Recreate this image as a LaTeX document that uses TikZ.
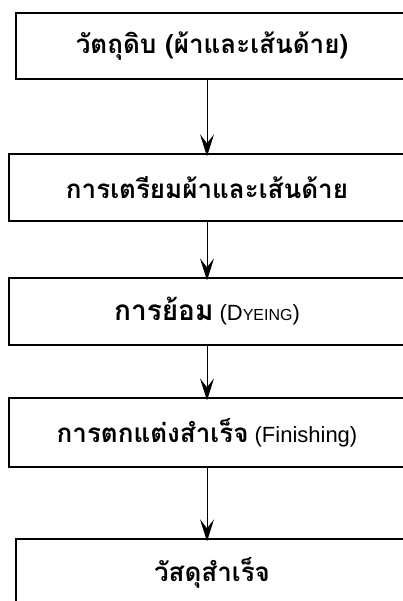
\documentclass[tikz,border=0pt]{standalone}
\usepackage{fontspec}
\setmainfont{Liberation Sans}
\newfontfamily\thai[Script=Thai]{Loma}
\usetikzlibrary{arrows.meta}
\begin{document}
\begin{tikzpicture}[x=1pt,y=-1pt,
  box/.style={draw,line width=1.3pt,inner sep=0pt,anchor=center},
  arr/.style={line width=0.8pt,-{Stealth[length=22pt,width=14pt,inset=9pt]},shorten >=-3pt},
  tb/.style={font=\thai\bfseries\fontsize{26}{30}\selectfont},
  tr/.style={font=\fontsize{22}{26}\selectfont}]
\useasboundingbox (0,0) rectangle (403,601);
\node[box,minimum width=392pt,minimum height=66pt,tb] (b1) at (212,46) {วัตถุดิบ (ผ้าและเส้นด้าย)};
\node[box,minimum width=396pt,minimum height=67pt,tb] (b2) at (207,187.5) {การเตรียมผ้าและเส้นด้าย};
\node[box,minimum width=396pt,minimum height=67pt,tr] (b3) at (207,311.5) {{\thai\bfseries\fontsize{28}{30}\selectfont การย้อม} (D{\fontsize{16}{18}\selectfont YEING})};
\node[box,minimum width=396pt,minimum height=69pt,tr] (b4) at (207,432.5) {{\thai\bfseries\fontsize{26}{30}\selectfont การตกแต่งสำเร็จ} (Finishing)};
\node[box,minimum width=392pt,minimum height=67pt,tb] (b5) at (212,572.5) {วัสดุสำเร็จ};
\draw[arr] (b1.south -| b2.north) -- (b2.north);
\draw[arr] (b2) -- (b3);
\draw[arr] (b3) -- (b4);
\draw[arr] (b4.south) -- (b5.north -| b4.south);
\end{tikzpicture}
\end{document}
